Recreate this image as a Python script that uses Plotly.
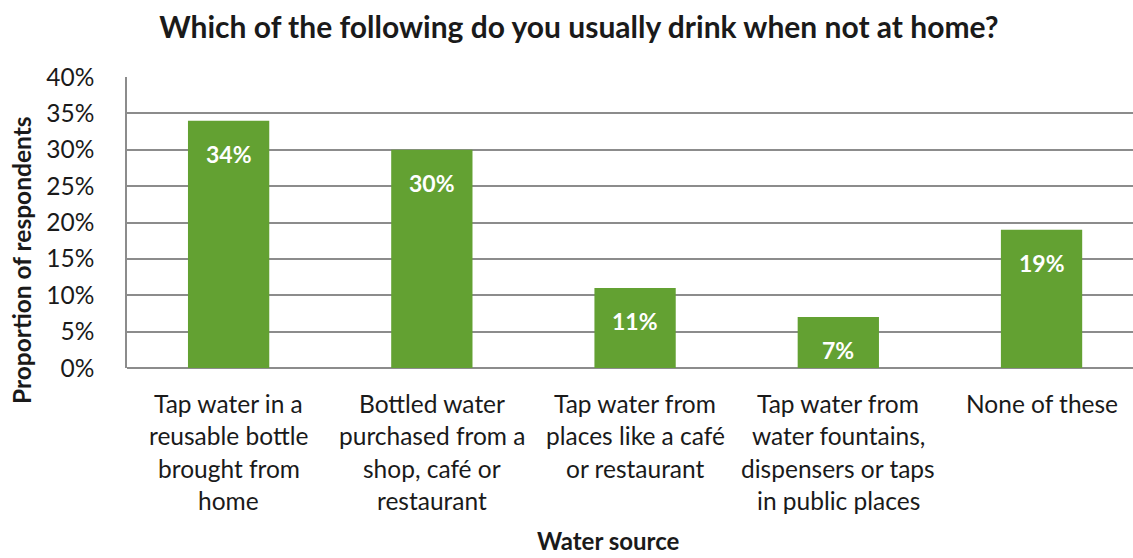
import plotly.graph_objects as go

# Survey results: share of respondents by water source when away from home
categories = [
    "Tap water in a reusable bottle brought from home",
    "Bottled water purchased from a shop, café or restaurant",
    "Tap water from places like a café or restaurant",
    "Tap water from water fountains, dispensers or taps in public places",
    "None of these",
]
category_lines = [
    ["Tap water in a", "reusable bottle", "brought from", "home"],
    ["Bottled water", "purchased from a", "shop, café or", "restaurant"],
    ["Tap water from", "places like a café", "or restaurant"],
    ["Tap water from", "water fountains,", "dispensers or taps", "in public places"],
    ["None of these"],
]
shares = [0.34, 0.30, 0.11, 0.07, 0.19]
y_ticks = [0, 0.05, 0.10, 0.15, 0.20, 0.25, 0.30, 0.35, 0.40]
y_tick_text = ["0%", "5%", "10%", "15%", "20%", "25%", "30%", "35%", "40%"]

FONT = "Lato"
GREEN = "#63A132"
GRID = "#8C8C8C"
TEXT = "#1a1a1a"

x_pos = list(range(len(categories)))

fig = go.Figure()
fig.add_trace(go.Bar(
    x=x_pos,
    y=shares,
    width=0.4,
    marker=dict(color=GREEN, line=dict(width=0)),
    hovertext=categories,
    showlegend=False,
))

annotations = []
# value labels inside the top of each bar
for xi, v in zip(x_pos, shares):
    annotations.append(dict(
        x=xi, y=v, xref="x", yref="y", text=f"<b>{round(v * 100)}%</b>",
        showarrow=False, yanchor="middle", yshift=-33,
        font=dict(family=FONT, size=23, color="white"),
    ))

# category labels, one line per annotation for wider line spacing
for xi, lines in zip(x_pos, category_lines):
    for k, line in enumerate(lines):
        annotations.append(dict(
            x=xi, y=0, xref="x", yref="paper", text=line,
            showarrow=False, yanchor="middle", xanchor="center",
            yshift=-35 - k * 32.5,
            font=dict(family=FONT, size=24.5, color=TEXT),
        ))

# axis titles
annotations.append(dict(
    x=0.479, y=0, xref="paper", yref="paper", text="<b>Water source</b>",
    showarrow=False, yanchor="middle", xanchor="center", yshift=-172,
    font=dict(family=FONT, size=24, color=TEXT),
))
annotations.append(dict(
    x=0, y=0.371, xref="paper", yref="paper",
    text="<b>Proportion of respondents</b>", textangle=-90,
    showarrow=False, yanchor="middle", xanchor="center", xshift=-106,
    font=dict(family=FONT, size=24.5, color=TEXT),
))

fig.update_layout(
    width=1133, height=558,
    margin=dict(l=127, r=0, t=77, b=190),
    paper_bgcolor="white", plot_bgcolor="white",
    title=dict(
        text="<b>Which of the following do you usually drink when not at home?</b>",
        x=0.511, xanchor="center", y=0.950, yanchor="middle",
        font=dict(family=FONT, size=30, color=TEXT),
    ),
    annotations=annotations,
    xaxis=dict(
        range=[-0.5, 4.45], showticklabels=False, showgrid=False,
        zeroline=False, showline=False, fixedrange=True,
    ),
    yaxis=dict(
        range=[0, 0.40], tickvals=y_ticks, ticktext=y_tick_text,
        showgrid=True, gridcolor=GRID, gridwidth=1.5,
        zeroline=True, zerolinecolor=GRID, zerolinewidth=1.5,
        showline=True, linecolor=GRID, linewidth=1.5,
        ticks="", ticklabelstandoff=26,
        tickfont=dict(family=FONT, size=24.5, color=TEXT),
    ),
)

fig.write_html("out.html")
